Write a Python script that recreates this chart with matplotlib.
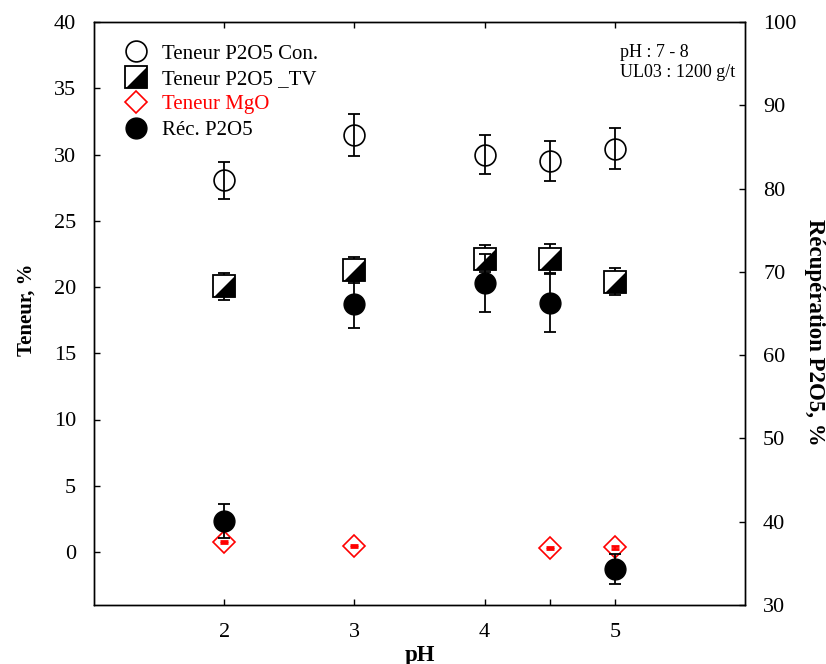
import numpy as np
import matplotlib
matplotlib.use("Agg")
import matplotlib.pyplot as plt
from matplotlib.lines import Line2D

plt.rcParams['font.family'] = ['Liberation Serif', 'DejaVu Serif']

# donnees
ph = [2, 3, 4, 4.5, 5]
teneur_con = [28.05, 31.5, 30.0, 29.5, 30.45]
err_con = [1.42, 1.58, 1.5, 1.5, 1.53]
teneur_tv = [20.05, 21.3, 22.15, 22.15, 20.4]
err_tv = [1.0, 1.0, 1.05, 1.1, 1.0]
ph_mgo = [2, 3, 4.5, 5]
teneur_mgo = [0.75, 0.45, 0.3, 0.35]
err_mgo = [0.1, 0.1, 0.1, 0.1]
rec_p2o5 = [40.1, 66.1, 68.65, 66.3, 34.3]
err_rec = [2.0, 2.8, 3.5, 3.5, 1.8]

tri = [(-1, -1), (1, -1), (1, 1), (-1, -1)]

fig = plt.figure(figsize=(8.26, 6.64), dpi=100)
ax1 = fig.add_axes([94/826, 1-605/664, 651/826, 583/664])
ax2 = ax1.twinx()

#### teneurs (axe gauche) ####
ax1.errorbar(ph, teneur_con, yerr=err_con, fmt='none', ecolor='black', elinewidth=1.3, capsize=4, capthick=1.3, zorder=2)
ax1.plot(ph, teneur_con, 'o', ms=15, mfc='none', mec='black', mew=1.2, zorder=3)

ax1.errorbar(ph, teneur_tv, yerr=err_tv, fmt='none', ecolor='black', elinewidth=1.3, capsize=4, capthick=1.3, zorder=2)
ax1.plot(ph, teneur_tv, 's', ms=15.5, mfc='white', mec='black', mew=1.3, zorder=3)
ax1.plot(ph, teneur_tv, marker=tri, ls='none', ms=15.5, mfc='black', mec='black', mew=0, zorder=4)

ax1.errorbar(ph_mgo, teneur_mgo, yerr=err_mgo, fmt='none', ecolor='red', elinewidth=1.3, capsize=3, capthick=2, zorder=2)
ax1.plot(ph_mgo, teneur_mgo, 'D', ms=10.7, mfc='none', mec='red', mew=1.2, zorder=3)

#### recuperation (axe droit) ####
ax2.errorbar(ph, rec_p2o5, yerr=err_rec, fmt='none', ecolor='black', elinewidth=1.3, capsize=4, capthick=1.3, zorder=2)
ax2.plot(ph, rec_p2o5, 'o', ms=15, mfc='black', mec='black', zorder=3)

ax1.set_xlim(1, 6)
ax1.set_ylim(-4, 40)
ax2.set_ylim(30, 100)

ax1.set_xticks([2, 3, 4, 5])
ax1.set_xticks([4.5], minor=True)
ax1.set_yticks(np.arange(0, 41, 5))
ax2.set_yticks(np.arange(30, 101, 10))

ax1.tick_params(axis='x', which='major', direction='in', top=True, bottom=True, length=4.5, width=1, labelsize=16, pad=13)
ax1.tick_params(axis='x', which='minor', direction='in', top=False, bottom=True, length=4.5, width=1)
ax1.tick_params(axis='y', direction='in', left=True, right=False, length=4.5, width=1, labelsize=16, pad=13)
ax2.tick_params(axis='y', direction='in', right=True, left=False, length=4.5, width=1, labelsize=16, pad=13)
ax2.tick_params(axis='x', top=False, bottom=False)

for ax in (ax1, ax2):
	for s in ax.spines.values():
		s.set_linewidth(1.0)

ax1.set_xlabel('pH', fontsize=16.5, fontweight='bold')
ax1.xaxis.set_label_coords(0.5, -0.068)
ax1.set_ylabel('Teneur, %', fontsize=15, fontweight='bold', va='center')
ax1.yaxis.set_label_coords(-0.103, 0.506)
ax2.set_ylabel('Récupération P2O5, %', fontsize=16.5, fontweight='bold', rotation=270, va='center')
ax2.yaxis.set_label_coords(1.106, 0.468)

ax2.text(0.808, 0.962, 'pH : 7 - 8\nUL03 : 1200 g/t', transform=ax2.transAxes, fontsize=13,
	va='top', ha='left', linespacing=1.25)

#### legende ####
h_con = Line2D([], [], ls='none', marker='o', ms=15, mfc='none', mec='black', mew=1.2)
h_sq = Line2D([], [], ls='none', marker='s', ms=15.5, mfc='white', mec='black', mew=1.3)
h_tri = Line2D([], [], ls='none', marker=tri, ms=15.5, mfc='black', mec='black', mew=0)
h_mgo = Line2D([], [], ls='none', marker='D', ms=10.7, mfc='none', mec='red', mew=1.2)
h_rec = Line2D([], [], ls='none', marker='o', ms=15, mfc='black', mec='black')

leg = ax2.legend([h_con, (h_sq, h_tri), h_mgo, h_rec],
	['Teneur P2O5 Con.', 'Teneur P2O5 _TV', 'Teneur MgO', 'Réc. P2O5'],
	loc='upper left', bbox_to_anchor=(0.027, 0.98), frameon=False, fontsize=15,
	handlelength=1.3, handletextpad=0.6, labelspacing=0.28, borderpad=0)
leg.get_texts()[2].set_color('red')

plt.savefig('out.png', dpi=100)
